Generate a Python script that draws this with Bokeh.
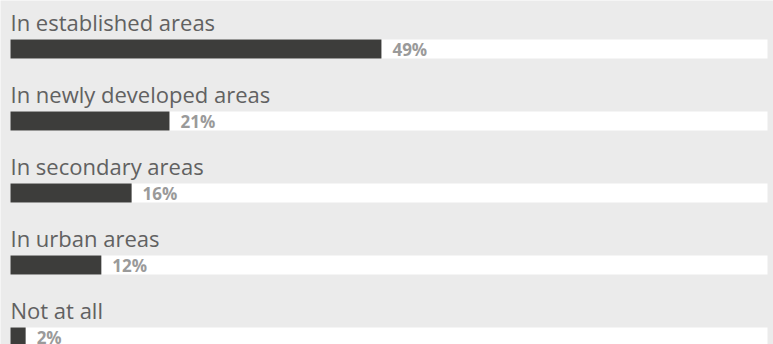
from bokeh.plotting import figure
from bokeh.models import Range1d, ColumnDataSource
from bokeh.core.properties import value
from bokeh.embed import file_html
from bokeh.resources import INLINE

categories = ["In established areas", "In newly developed areas", "In secondary areas",
              "In urban areas", "Not at all"]
values = [49, 21, 16, 12, 2]
value_labels = ["49%", "21%", "16%", "12%", "2%"]

W, H = 773, 344
left_px, track_px = 10, 757
ppu = track_px / 100.0
row_gap, bar_top0, bar_h = 72, 39, 19

centers = [bar_top0 + i * row_gap + bar_h / 2 for i in range(len(categories))]
src = ColumnDataSource(dict(
    cat=categories, val=values, lab=value_labels, y=centers,
    full=[100] * len(values),
    label_y=[c - bar_h / 2 - 9.5 for c in centers],
    val_y=[c + bar_h / 2 - 2.5 for c in centers],
))

p = figure(width=W, height=H, output_backend="svg", toolbar_location=None,
           x_range=Range1d(-left_px / ppu, (W - left_px) / ppu),
           y_range=Range1d(H, 0), min_border=0)
p.axis.visible = False
p.grid.visible = False
p.outline_line_color = None
p.background_fill_color = "#ebebeb"
p.border_fill_color = "#ebebeb"

p.hbar(y="y", left=0, right="full", height=bar_h, source=src,
       fill_color="white", line_color=None)
p.hbar(y="y", left=0, right="val", height=bar_h, source=src,
       fill_color="#3d3d3b", line_color=None)
p.text(x=0, y="label_y", text="cat", source=src, text_font=value("Open Sans"),
       y_offset=-8, text_font_size="22px", text_color="#616161",
       text_baseline="alphabetic")
p.text(x="val", y="val_y", text="lab", source=src, x_offset=11, y_offset=-7,
       text_font=value("Open Sans"), text_font_style="bold",
       text_font_size="17px", text_color="#9a9a9a", text_baseline="alphabetic")

open("out.html", "w").write(file_html(p, INLINE))
